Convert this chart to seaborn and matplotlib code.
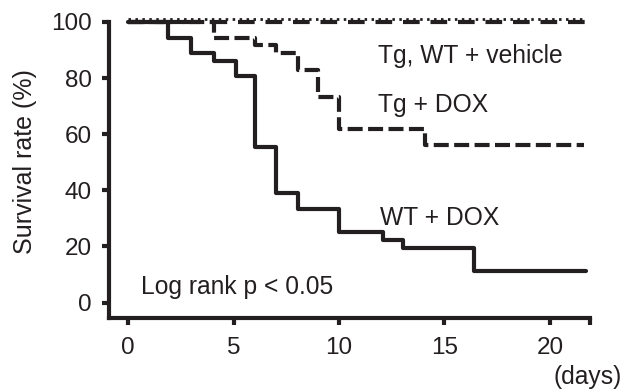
import matplotlib
matplotlib.use("Agg")
import matplotlib.pyplot as plt
import matplotlib.transforms as mtransforms
import seaborn as sns
import pandas as pd

# ---- data ----
wt_dox_days = [0, 1.9, 3.0, 4.05, 5.1, 6.0, 7.0, 8.05, 10.0, 12.1, 13.05, 16.4, 21.7]
wt_dox_surv = [100, 94.4, 88.9, 86.1, 80.6, 55.6, 38.9, 33.3, 25.0, 22.2, 19.4, 11.1, 11.1]
tg_dox_days = [0, 4.05, 6.0, 7.0, 8.05, 9.0, 10.0, 14.1, 21.6]
tg_dox_surv = [100, 94.4, 91.7, 88.9, 83.0, 73.3, 62.0, 56.0, 56.0]
veh_days = [0, 21.7]
tg_veh_surv = [100, 100]
wt_veh_surv = [100, 100]
x_ticks = [0, 5, 10, 15, 20]
y_ticks = [0, 20, 40, 60, 80, 100]

sns.set_theme(style="ticks")
plt.rcParams["font.family"] = ["Liberation Sans", "DejaVu Sans"]
plt.rcParams["text.color"] = "#231f20"
plt.rcParams["xtick.color"] = "#231f20"
plt.rcParams["ytick.color"] = "#231f20"

fig = plt.figure(figsize=(6.31, 3.89), dpi=100)
ax = fig.add_axes([108.7 / 631, 1 - 318 / 389, (590 - 108.7) / 631, (318 - 22) / 389])

ink = "#231f20"
lw = 3.0

df_wt = pd.DataFrame({"day": wt_dox_days, "surv": wt_dox_surv})
df_tg = pd.DataFrame({"day": tg_dox_days, "surv": tg_dox_surv})
df_tgv = pd.DataFrame({"day": veh_days, "surv": tg_veh_surv})
df_wtv = pd.DataFrame({"day": veh_days, "surv": wt_veh_surv})

sns.lineplot(data=df_wt, x="day", y="surv", ax=ax, color=ink, lw=lw,
             drawstyle="steps-post", estimator=None, clip_on=False)
sns.lineplot(data=df_tg, x="day", y="surv", ax=ax, color=ink, lw=lw,
             drawstyle="steps-post", estimator=None, clip_on=False)
ax.lines[-1].set_dashes((3.6, 1.3))
sns.lineplot(data=df_tgv, x="day", y="surv", ax=ax, color=ink, lw=lw,
             drawstyle="steps-post", estimator=None, clip_on=False)
ax.lines[-1].set_dashes((4.0, 2.6))
sns.lineplot(data=df_wtv, x="day", y="surv", ax=ax, color=ink, lw=2.0,
             drawstyle="steps-post", estimator=None, clip_on=False)
ln = ax.lines[-1]
ln.set_dashes((0.9, 1.6))
ln.set_transform(ax.transData + mtransforms.ScaledTranslation(0, 3 / 100, fig.dpi_scale_trans))

ax.set_xlim(-0.92, 21.9)
ax.set_ylim(-5.5, 100)
ax.set_xticks(x_ticks)
ax.set_xticklabels([str(v) for v in x_ticks])
ax.set_xticks([21.9], minor=True)
ax.set_yticks(y_ticks)
ax.set_yticklabels([str(v) for v in y_ticks])
ax.set_xlabel("")
ax.set_ylabel("")

for s in ["top", "right"]:
    ax.spines[s].set_visible(False)
for s in ["left", "bottom"]:
    ax.spines[s].set_linewidth(3.0)
    ax.spines[s].set_color(ink)
ax.tick_params(axis="both", which="both", length=5, width=3.0, direction="out",
               labelsize=17.5, colors=ink)
ax.tick_params(axis="x", which="major", pad=9)
ax.tick_params(axis="y", which="major", pad=7)

fs = 17.7
ax.text(11.87, 85.3, "Tg, WT + vehicle", fontsize=fs, va="baseline", ha="left", color=ink)
ax.text(11.87, 68.0, "Tg + DOX", fontsize=fs, va="baseline", ha="left", color=ink)
ax.text(11.92, 27.7, "WT + DOX", fontsize=fs, va="baseline", ha="left", color=ink)
ax.text(0.6, 3.1, "Log rank p < 0.05", fontsize=fs, va="baseline", ha="left", color=ink)

fig.text(25 / 631, 1 - 162 / 389, "Survival rate (%)", rotation=90, fontsize=18,
         ha="center", va="center", color=ink)
fig.text(622 / 631, 1 - 377 / 389, "(days)", fontsize=fs, ha="right", va="center", color=ink)

fig.savefig("out.png", dpi=100, facecolor="white")
